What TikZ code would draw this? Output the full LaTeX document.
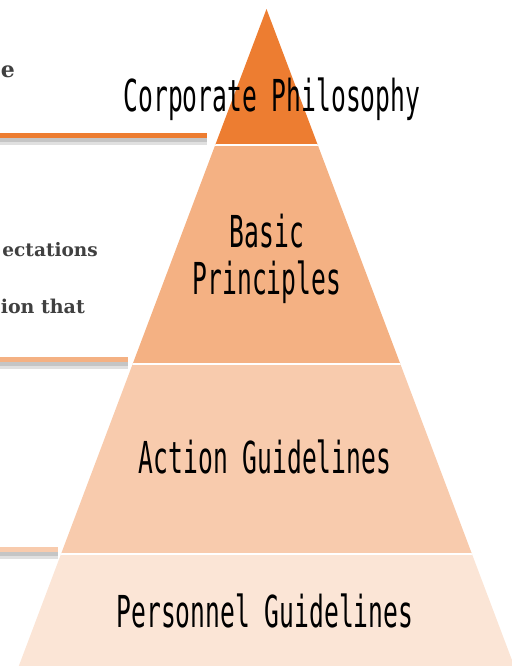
\documentclass[tikz,border=0pt]{standalone}
\usepackage{fontspec}
\newfontfamily\pyrfont[FakeStretch=0.56]{DejaVu Sans Mono}
\newfontfamily\notefont{DejaVu Serif}
\definecolor{bandA}{HTML}{ED7D31}
\definecolor{bandB}{HTML}{F4B183}
\definecolor{bandC}{HTML}{F8CBAD}
\definecolor{bandD}{HTML}{FBE5D6}
\definecolor{notegray}{HTML}{404040}
\tikzset{
  level/.style={font=\pyrfont\fontsize{44}{46}\selectfont, anchor=base, inner sep=0pt, align=center},
  note/.style={font=\notefont\bfseries\fontsize{19}{21}\selectfont, text=notegray, anchor=base east, inner sep=0pt},
  pointer/.style={line width=5pt},
  pshadow/.style={line width=7pt, black, opacity=0.12}
}

\begin{document}
\begin{tikzpicture}[x=1pt,y=-1pt]
  \useasboundingbox (0,0) rectangle (512,666);

  % pyramid bands
  \begin{scope}
    \clip (266.5,9) -- (18.8,666) -- (514.2,666) -- cycle;
    \foreach \ytop/\ybot/\col in {0/145/bandA, 145/364/bandB, 364/554/bandC, 554/666/bandD} {
      \fill[\col] (0,\ytop) rectangle (512,\ybot);
    }
    \foreach \y in {145,364,554} {
      \draw[white, line width=1.5pt] (0,\y) -- (512,\y);
    }
  \end{scope}

  \node[level] (corp) at (272,112) {Corporate Philosophy};
  \node[level] (basic) at (267,294) {Basic\\[1pt]Principles};
  \node[level] (action) at (265,473) {Action Guidelines};
  \node[level] (staff) at (265,627) {Personnel Guidelines};

  % cut-off notes on the left
  \node[note, font=\notefont\bfseries\fontsize{22}{24}\selectfont] (head) at (15,78) {e};
  \node[note, font=\notefont\bfseries\fontsize{18.5}{20}\selectfont] (expect) at (98,256) {ectations};
  \node[note] (that) at (85,313) {ion that};

  % pointer lines
  \coordinate (pa) at (0,135);   \coordinate (qa) at (207,135);
  \coordinate (pb) at (0,359);   \coordinate (qb) at (128,359);
  \coordinate (pc) at (0,549);   \coordinate (qc) at (58,549);
  \foreach \p/\q/\col in {pa/qa/bandA, pb/qb/bandB, pc/qc/bandC} {
    \draw[pshadow] ([yshift=-6pt]\p) -- ([yshift=-6pt]\q);
    \draw[pshadow, line width=4pt] ([yshift=-5pt]\p) -- ([yshift=-5pt]\q);
    \draw[pointer, \col] (\p) -- (\q);
  }
\end{tikzpicture}
\end{document}
